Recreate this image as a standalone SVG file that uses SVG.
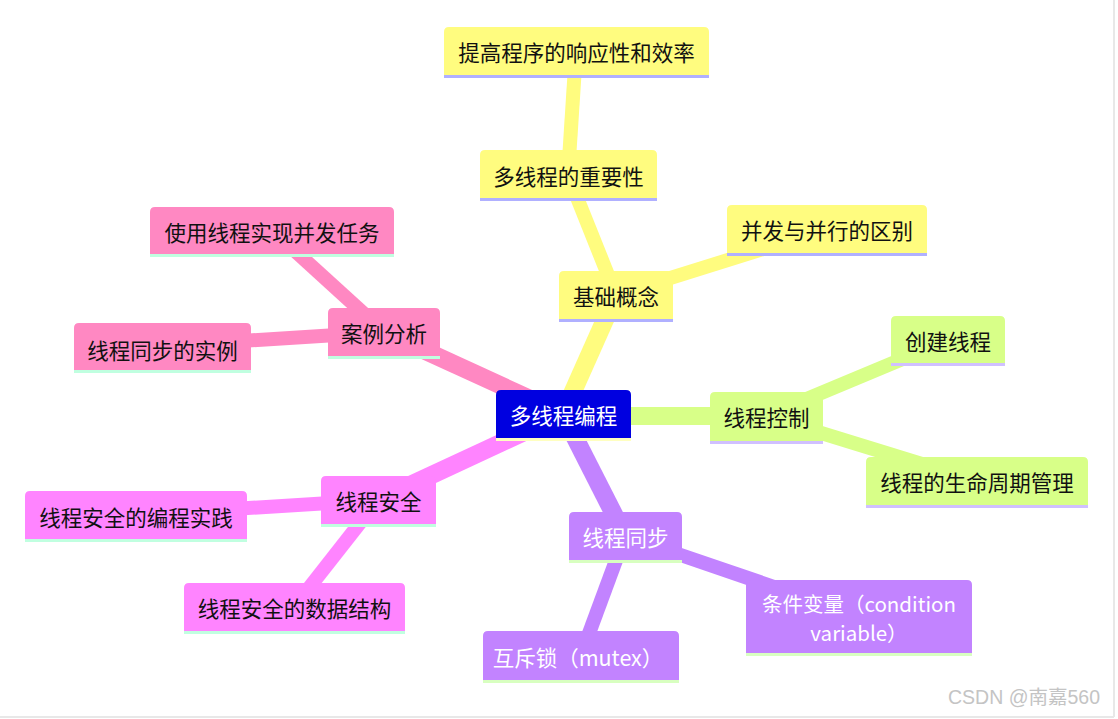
<svg xmlns="http://www.w3.org/2000/svg" width="1118" height="719" viewBox="0 0 1118 719">
<style>
text{font-family:"Noto Sans CJK SC","Microsoft YaHei","Noto Sans",sans-serif;font-size:21.5px;text-anchor:middle;dominant-baseline:central}
.dk{fill:#111}
.wt{fill:#fff}
.sm{font-size:20.5px}
.e1{stroke-width:18;stroke-linecap:butt;fill:none}
.e2{stroke-width:14;stroke-linecap:butt;fill:none}
.y{stroke:#FFFC7F}.g{stroke:#D8FF88}.p{stroke:#C283FF}.m{stroke:#FF84FF}.k{stroke:#FF88C2}
.fy{fill:#FFFC7F}.fg{fill:#D8FF88}.fp{fill:#C283FF}.fm{fill:#FF84FF}.fk{fill:#FF88C2}
</style>
<rect width="1118" height="719" fill="#fff"/>
<line x1="1114" y1="0" x2="1114" y2="717" stroke="#e8e8e8" stroke-width="2"/>
<line x1="0" y1="717" x2="1114" y2="717" stroke="#e8e8e8" stroke-width="2"/>
<g id="connectors">
<line class="e1 y" x1="563" y1="414" x2="616" y2="295"/>
<line class="e2 y" x1="616" y1="295" x2="568" y2="175"/>
<line class="e2 y" x1="568" y1="175" x2="576" y2="51"/>
<line class="e2 y" x1="616" y1="295" x2="827" y2="229"/>
<line class="e1 g" x1="563" y1="416" x2="766" y2="416"/>
<line class="e2 g" x1="766" y1="416" x2="948" y2="340"/>
<line class="e2 g" x1="766" y1="416" x2="977" y2="481"/>
<line class="e1 p" x1="563" y1="414" x2="625" y2="536"/>
<line class="e2 p" x1="625" y1="536" x2="581" y2="655"/>
<line class="e2 p" x1="625" y1="536" x2="859" y2="616"/>
<line class="e1 m" x1="563" y1="414" x2="378" y2="500"/>
<line class="e2 m" x1="378" y1="500" x2="136" y2="515"/>
<line class="e2 m" x1="378" y1="500" x2="294" y2="607"/>
<line class="e1 k" x1="563" y1="414" x2="384" y2="332"/>
<line class="e2 k" x1="384" y1="332" x2="272" y2="230"/>
<line class="e2 k" x1="384" y1="332" x2="162" y2="346"/>
</g>
<g id="root">
<path d="M496 438V395Q496 390 501 390H626Q631 390 631 395V438Z" fill="#0000E0"/>
<rect x="496" y="438" width="135" height="3" fill="#FFFFC0"/>
<text class="wt" x="563.5" y="414">多线程编程</text>
</g>
<g id="n-jichu">
<path d="M559 319V276Q559 271 564 271H668Q673 271 673 276V319Z" class="fy"/>
<rect x="559" y="319" width="114" height="3" fill="#B0B0FF"/>
<text class="dk" x="616" y="295">基础概念</text>
</g>
<g id="n-zhongyao">
<path d="M480 198V155Q480 150 485 150H652Q657 150 657 155V198Z" class="fy"/>
<rect x="480" y="198" width="177" height="3" fill="#B0B0FF"/>
<text class="dk" x="568.5" y="175">多线程的重要性</text>
</g>
<g id="n-tigao">
<path d="M444 75V32Q444 27 449 27H704Q709 27 709 32V75Z" class="fy"/>
<rect x="444" y="75" width="265" height="3" fill="#B0B0FF"/>
<text class="dk" x="576.5" y="51">提高程序的响应性和效率</text>
</g>
<g id="n-bingfa">
<path d="M727 253V210Q727 205 732 205H922Q927 205 927 210V253Z" class="fy"/>
<rect x="727" y="253" width="200" height="3" fill="#B0B0FF"/>
<text class="dk" x="827" y="229">并发与并行的区别</text>
</g>
<g id="n-kongzhi">
<path d="M710 441V397Q710 392 715 392H818Q823 392 823 397V441Z" class="fg"/>
<rect x="710" y="441" width="113" height="3" fill="#D0C0FF"/>
<text class="dk" x="766.5" y="416">线程控制</text>
</g>
<g id="n-chuangjian">
<path d="M891 363V321Q891 316 896 316H1000Q1005 316 1005 321V363Z" class="fg"/>
<rect x="891" y="363" width="114" height="3" fill="#D0C0FF"/>
<text class="dk" x="948" y="340">创建线程</text>
</g>
<g id="n-shengming">
<path d="M866 505V462Q866 457 871 457H1083Q1088 457 1088 462V505Z" class="fg"/>
<rect x="866" y="505" width="222" height="3" fill="#D0C0FF"/>
<text class="dk" x="977" y="481">线程的生命周期管理</text>
</g>
<g id="n-tongbu">
<path d="M569 560V517Q569 512 574 512H677Q682 512 682 517V560Z" class="fp"/>
<rect x="569" y="560" width="113" height="3" fill="#D8FFC0"/>
<text class="wt" x="625.5" y="536">线程同步</text>
</g>
<g id="n-mutex">
<path d="M483 680V636Q483 631 488 631H674Q679 631 679 636V680Z" class="fp"/>
<rect x="483" y="680" width="196" height="3" fill="#D8FFC0"/>
<text class="wt" x="578" y="656">互斥锁（mutex）</text>
</g>
<g id="n-tiaojian">
<path d="M746 653V585Q746 580 751 580H967Q972 580 972 585V653Z" class="fp"/>
<rect x="746" y="653" width="226" height="3" fill="#D8FFC0"/>
<text class="wt sm" x="859" y="603">条件变量（condition</text>
<text class="wt sm" x="859" y="632">variable）</text>
</g>
<g id="n-anquan">
<path d="M321 524V481Q321 476 326 476H431Q436 476 436 481V524Z" class="fm"/>
<rect x="321" y="524" width="115" height="3" fill="#C0FFE0"/>
<text class="dk" x="378.5" y="500">线程安全</text>
</g>
<g id="n-shijian">
<path d="M25 539V496Q25 491 30 491H242Q247 491 247 496V539Z" class="fm"/>
<rect x="25" y="539" width="222" height="3" fill="#C0FFE0"/>
<text class="dk" x="136" y="516">线程安全的编程实践</text>
</g>
<g id="n-jiegou">
<path d="M184 631V588Q184 583 189 583H400Q405 583 405 588V631Z" class="fm"/>
<rect x="184" y="631" width="221" height="3" fill="#C0FFE0"/>
<text class="dk" x="294.5" y="607">线程安全的数据结构</text>
</g>
<g id="n-anli">
<path d="M328 356V313Q328 308 333 308H435Q440 308 440 313V356Z" class="fk"/>
<rect x="328" y="356" width="112" height="3" fill="#C0FFE0"/>
<text class="dk" x="384" y="332">案例分析</text>
</g>
<g id="n-shiyong">
<path d="M150 254V212Q150 207 155 207H389Q394 207 394 212V254Z" class="fk"/>
<rect x="150" y="254" width="244" height="3" fill="#C0FFE0"/>
<text class="dk" x="272" y="231">使用线程实现并发任务</text>
</g>
<g id="n-shili">
<path d="M74 370V328Q74 323 79 323H246Q251 323 251 328V370Z" class="fk"/>
<rect x="74" y="370" width="177" height="3" fill="#C0FFE0"/>
<text class="dk" x="162.5" y="349">线程同步的实例</text>
</g>
<text x="1024" y="697" style="font-family:'Liberation Sans','Noto Sans CJK SC',sans-serif;font-size:19.5px;fill:#c4c4c4">CSDN @南嘉560</text>
</svg>
